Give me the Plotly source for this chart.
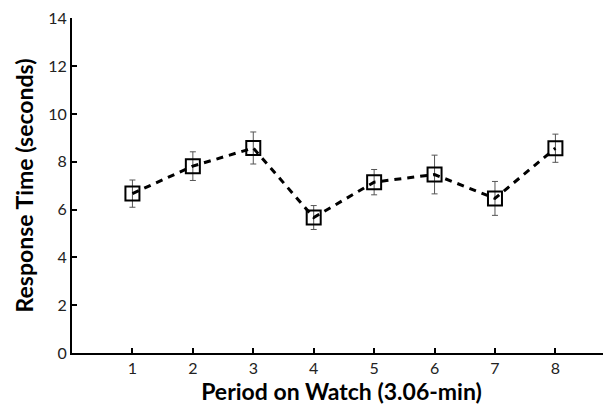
import plotly.graph_objects as go

periods = [1, 2, 3, 4, 5, 6, 7, 8]
response_time = [6.67, 7.82, 8.58, 5.67, 7.15, 7.47, 6.47, 8.57]
error = [0.57, 0.60, 0.67, 0.50, 0.53, 0.81, 0.71, 0.59]
x_ticks = [1, 2, 3, 4, 5, 6, 7, 8]
y_ticks = [0, 2, 4, 6, 8, 10, 12, 14]

fig = go.Figure()
fig.add_trace(go.Scatter(
    x=periods, y=response_time,
    mode="lines+markers",
    line=dict(color="black", width=3, dash="7px,6px"),
    marker=dict(symbol="square-open", size=14, color="black", line=dict(width=2)),
    error_y=dict(type="data", array=error, visible=True, color="#555555", thickness=1, width=3),
    showlegend=False,
))

fig.update_layout(
    width=603, height=406,
    margin=dict(l=64, r=0, t=8, b=61),
    paper_bgcolor="white", plot_bgcolor="white",
    font=dict(family="Lato, 'Open Sans', sans-serif", color="#222222"),
)
fig.update_xaxes(
    range=[0, 8.92], tickvals=x_ticks, ticks="inside", ticklen=5, tickwidth=1.5, tickcolor="black",
    showline=True, linecolor="black", linewidth=2, showgrid=False, zeroline=False,
    tickfont=dict(size=16, color="#222222"),
    title=dict(text="<b>Period on Watch (3.06-min)</b>", font=dict(size=23, color="black"), standoff=6),
)
fig.update_yaxes(
    range=[0, 14.02], tickvals=y_ticks, ticks="inside", ticklen=5, tickwidth=1.5, tickcolor="black",
    showline=True, linecolor="black", linewidth=2, showgrid=False, zeroline=False,
    ticklabeloverflow="allow",
    tickfont=dict(size=16, color="#222222"),
    title=dict(text="<b>Response Time (seconds)</b>", font=dict(size=23, color="black"), standoff=8),
)

fig.write_html("out.html")
